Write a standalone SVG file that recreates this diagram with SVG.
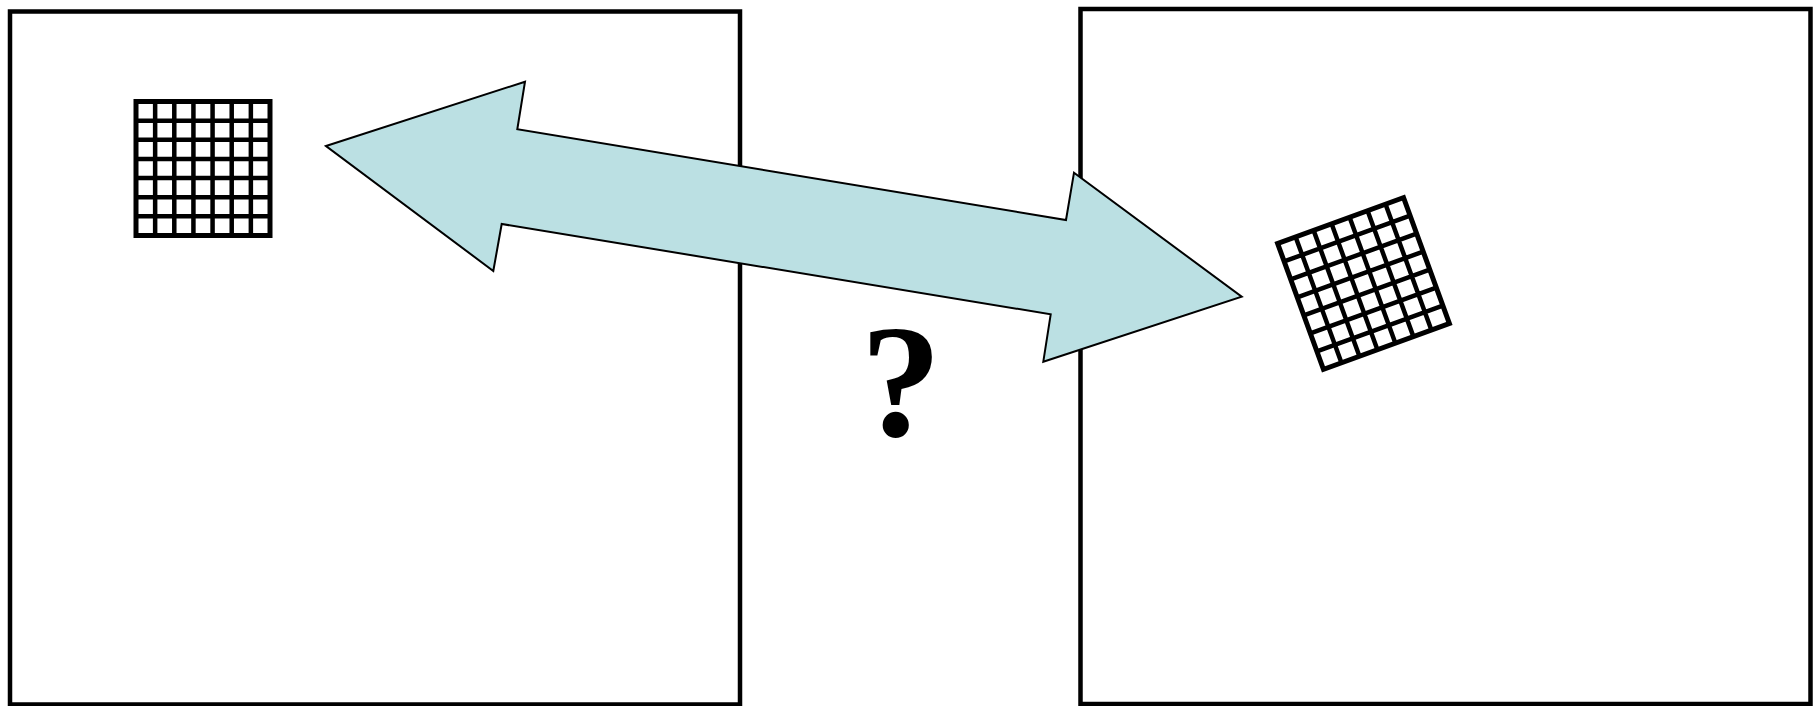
<svg xmlns="http://www.w3.org/2000/svg" xmlns:xlink="http://www.w3.org/1999/xlink" width="1814" height="706" viewBox="0 0 1814 706">
  <style>
    .frame { fill: #ffffff; stroke: #000000; stroke-width: 4.5; }
    .grid-outer { fill: none; stroke: #000000; stroke-width: 5; }
    .grid { fill: none; stroke: #000000; stroke-width: 4.5; }
    .arrow { fill: #BBE0E3; stroke: #000000; stroke-width: 2; stroke-linejoin: miter; }
    .q { font-family: "Liberation Serif", "Times New Roman", serif; font-weight: bold; font-size: 162px; fill: #000000; }
  </style>
  <defs>
    <g id="gridShape">
      <rect class="grid-outer" x="-67" y="-67" width="134" height="134"/>
      <path class="grid" d="M-47.857,-67V67M-28.714,-67V67M-9.571,-67V67M9.571,-67V67M28.714,-67V67M47.857,-67V67M-67,-47.857H67M-67,-28.714H67M-67,-9.571H67M-67,9.571H67M-67,28.714H67M-67,47.857H67"/>
    </g>
  </defs>
  <rect width="1814" height="706" fill="#ffffff"/>
  <g id="leftFrame">
    <rect class="frame" x="10" y="11.5" width="730" height="693"/>
  </g>
  <g id="rightFrame">
    <rect class="frame" x="1080.5" y="9" width="730" height="695"/>
  </g>
  <g id="leftGrid">
    <use xlink:href="#gridShape" transform="translate(203,168.5)"/>
  </g>
  <g id="rightGrid">
    <use xlink:href="#gridShape" transform="translate(1363.5,283.5) rotate(-20)"/>
  </g>
  <g id="connectors">
    <polygon class="arrow" points="326,146 525,81.7 517.3,129.3 1066,220 1074,172.7 1241.7,296.7 1043.3,361.7 1050.7,314.3 501.7,224 493.3,271"/>
  </g>
  <g id="questionMark">
    <text class="q" x="901" y="436" text-anchor="middle">?</text>
  </g>
</svg>
